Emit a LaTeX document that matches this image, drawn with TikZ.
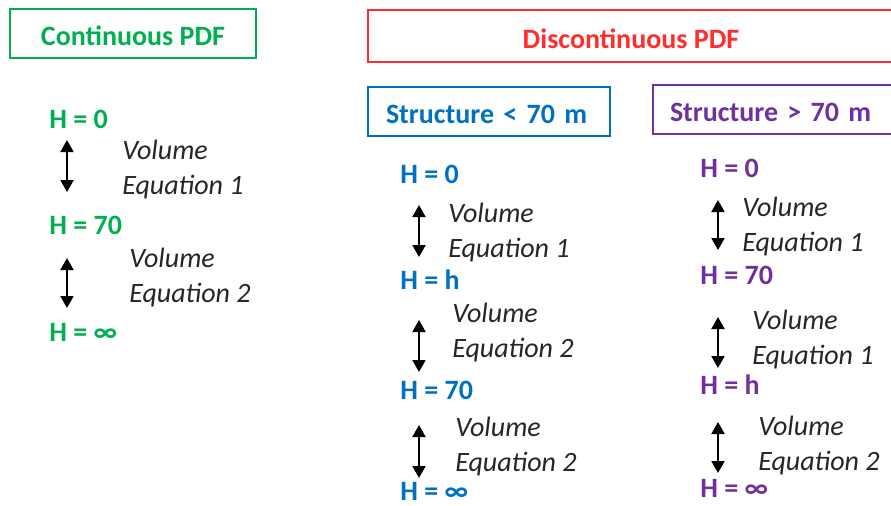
\documentclass[tikz,border=0pt]{standalone}
\usepackage{fontspec}
\setmainfont{Carlito}
\definecolor{verdeCont}{RGB}{0,176,80}
\definecolor{vermelhoDisc}{RGB}{255,45,45}
\definecolor{azulMenor}{RGB}{0,112,192}
\definecolor{roxoMaior}{RGB}{112,48,160}
\usetikzlibrary{arrows.meta,positioning}
\tikzset{
  caixa/.style={rectangle, draw, line width=1pt, minimum height=24.5pt,
                inner sep=0pt, text height=12pt, text depth=0pt,
                font=\fontsize{14}{16}\selectfont\bfseries},
  nivel/.style={anchor=west, inner sep=0pt, font=\fontsize{14}{16}\selectfont\bfseries},
  eqvol/.style={anchor=west, align=left, inner sep=0pt, text=black!85,
                font=\fontsize{14}{17.5}\selectfont\itshape},
  seta/.style={{Triangle[length=6pt,width=6.5pt]}-{Triangle[length=6pt,width=6.5pt]},
               line width=1pt, black},
}

\begin{document}
\begin{tikzpicture}[x=0.5pt,y=-0.5pt]
  \clip (0,0) rectangle (891,505);
  % titulos
  \node[caixa, draw=verdeCont, text=verdeCont, minimum width=123pt] (cont) at (133,33.5) {Continuous PDF};
  \node[caixa, draw=vermelhoDisc, text=vermelhoDisc, minimum width=263pt, minimum height=26pt] (disc) at (631,36) {Discontinuous PDF};
  \node[caixa, draw=azulMenor, text=azulMenor, text width=103pt, align=left, inner xsep=9pt] (menor) at (489,111.5) {Structure < 70 m};
  \node[caixa, draw=roxoMaior, text=roxoMaior, text width=112pt, align=left, inner xsep=8.5pt] (maior) at (782,109.5) {Structure > 70 m};

  % continuo
  \node[nivel, text=verdeCont] (cH0) at (49,119) {H = 0};
  \node[nivel, text=verdeCont] (cH70) at (49,225) {H = 70};
  \node[nivel, text=verdeCont] (cHinf) at (49,332) {H = ∞};
  \node[eqvol] (cV1) at (122,169.5) {Volume\\Equation 1};
  \node[eqvol] (cV2) at (129,278) {Volume\\Equation 2};
  \coordinate (cA1) at (67,140); \coordinate (cB1) at (67,192);
  \coordinate (cA2) at (67,258); \coordinate (cB2) at (67,308);
  \draw[seta] (cA1)--(cB1); \draw[seta] (cA2)--(cB2);

  % estrutura < 70 m
  \node[nivel, text=azulMenor] (mH0) at (400,174) {H = 0};
  \node[nivel, text=azulMenor] (mHh) at (400,280) {H = h};
  \node[nivel, text=azulMenor] (mH70) at (400,390) {H = 70};
  \node[nivel, text=azulMenor] (mHinf) at (400,491) {H = ∞};
  \node[eqvol] (mV1) at (448,232.5) {Volume\\Equation 1};
  \node[eqvol] (mV2) at (452,332.5) {Volume\\Equation 2};
  \node[eqvol] (mV3) at (455,446.5) {Volume\\Equation 2};
  \coordinate (mA1) at (419,205); \coordinate (mB1) at (419,257);
  \coordinate (mA2) at (419,320); \coordinate (mB2) at (419,372);
  \coordinate (mA3) at (419,425); \coordinate (mB3) at (419,478);
  \draw[seta] (mA1)--(mB1); \draw[seta] (mA2)--(mB2); \draw[seta] (mA3)--(mB3);

  % estrutura > 70 m
  \node[nivel, text=roxoMaior] (xH0) at (700,168) {H = 0};
  \node[nivel, text=roxoMaior] (xH70) at (700,275) {H = 70};
  \node[nivel, text=roxoMaior] (xHh) at (700,385) {H = h};
  \node[nivel, text=roxoMaior] (xHinf) at (700,488) {H = ∞};
  \node[eqvol] (xV1) at (742,226.5) {Volume\\Equation 1};
  \node[eqvol] (xV2) at (752,340) {Volume\\Equation 1};
  \node[eqvol] (xV3) at (758,445.5) {Volume\\Equation 2};
  \coordinate (xA1) at (718,200); \coordinate (xB1) at (718,250);
  \coordinate (xA2) at (718,317); \coordinate (xB2) at (718,368);
  \coordinate (xA3) at (718,422); \coordinate (xB3) at (718,473);
  \draw[seta] (xA1)--(xB1); \draw[seta] (xA2)--(xB2); \draw[seta] (xA3)--(xB3);
\end{tikzpicture}
\end{document}
